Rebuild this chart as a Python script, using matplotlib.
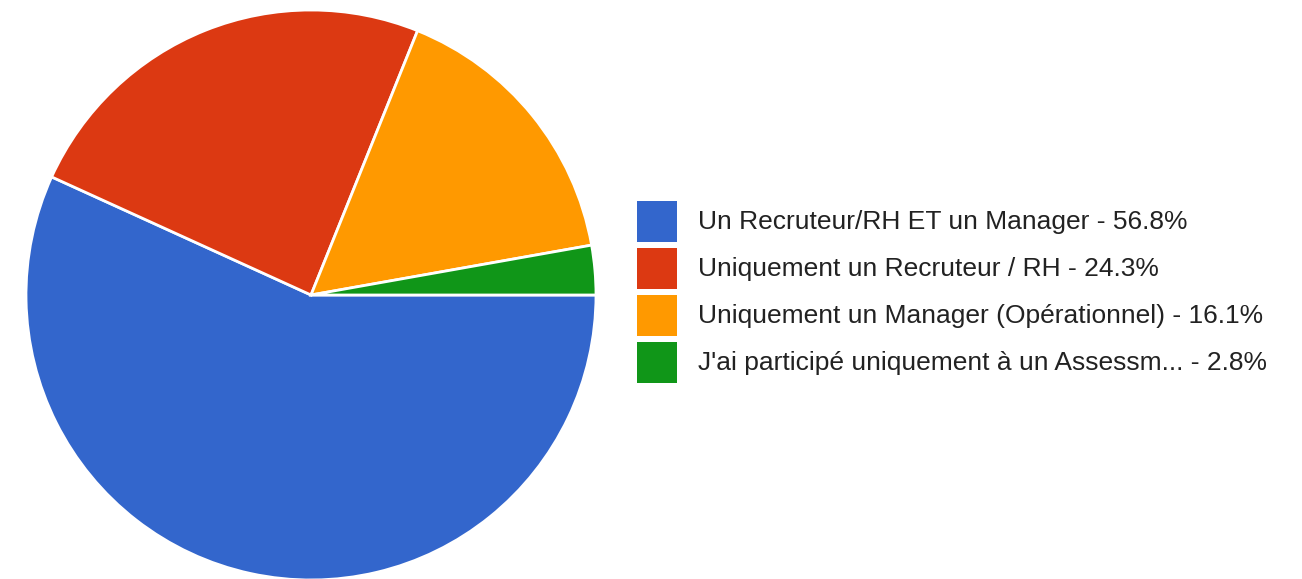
import matplotlib.pyplot as plt
from matplotlib.patches import Rectangle

plt.rcParams['font.family'] = ['Liberation Sans', 'DejaVu Sans']

# réponses au sondage
labels = [
    "Un Recruteur/RH ET un Manager",
    "Uniquement un Recruteur / RH",
    "Uniquement un Manager (Opérationnel)",
    "J'ai participé uniquement à un Assessm...",
]
pourcentages = [56.8, 24.3, 16.1, 2.8]
couleurs = ['#3366CC', '#DC3912', '#FF9900', '#109618']

W, H = 1302, 579
fig = plt.figure(figsize=(W / 100, H / 100), dpi=100)
ax = fig.add_axes([0, 0, 1, 1])
ax.set_xlim(0, W)
ax.set_ylim(0, H)
ax.set_aspect('equal')
ax.axis('off')

# camembert, sens horaire depuis 3 heures
ax.pie(pourcentages, colors=couleurs, startangle=0, counterclock=False,
       center=(311, H - 295), radius=285,
       wedgeprops=dict(edgecolor='white', linewidth=2))
ax.set_xlim(0, W)
ax.set_ylim(0, H)

# légende
y0 = 201
pas = 47
for i, (lab, p, c) in enumerate(zip(labels, pourcentages, couleurs)):
    haut = y0 + i * pas
    ax.add_patch(Rectangle((637, H - haut - 41), 40, 41, facecolor=c,
                           edgecolor='none'))
    ax.text(698, H - haut - 21, f"{lab} - {p}%", fontsize=19,
            va='center', ha='left', color='#222222')

fig.savefig('out.png', dpi=100)
